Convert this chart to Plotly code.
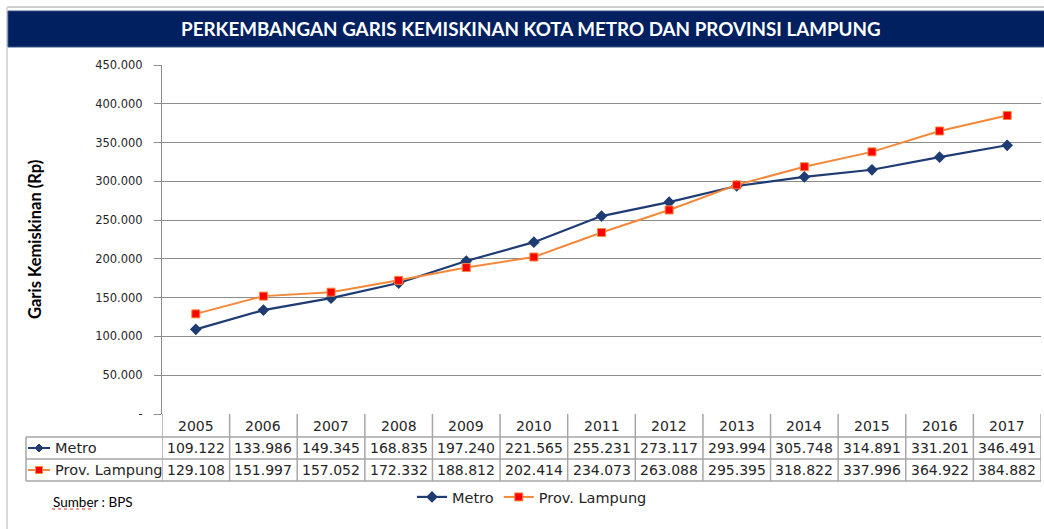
import plotly.graph_objects as go

# ---------------- data ----------------
years = [2005, 2006, 2007, 2008, 2009, 2010, 2011, 2012, 2013, 2014, 2015, 2016, 2017]
metro = [109122, 133986, 149345, 168835, 197240, 221565, 255231, 273117, 293994, 305748, 314891, 331201, 346491]
lampung = [129108, 151997, 157052, 172332, 188812, 202414, 234073, 263088, 295395, 318822, 337996, 364922, 384882]
series_names = ["Metro", "Prov. Lampung"]
y_tickvals = [0, 50000, 100000, 150000, 200000, 250000, 300000, 350000, 400000, 450000]
y_ticktext = ["-", "50.000", "100.000", "150.000", "200.000", "250.000", "300.000", "350.000", "400.000", "450.000"]
title_text = "PERKEMBANGAN GARIS KEMISKINAN KOTA METRO DAN PROVINSI LAMPUNG"
y_title = "Garis Kemiskinan (Rp)"
source_text = "Sumber : BPS"

# ---------------- style ----------------
W, H = 1044, 529
ML, MR, MT, MB = 162, 3, 65, 115
PW, PH = W - ML - MR, H - MT - MB
NAVY = "#1F3B73"
ORANGE = "#F4883A"
RED = "#FF0000"
GRID = "#8C8C8C"
TBL = "#A6A6A6"
TXT = "#262626"
FONT = "DejaVu Sans"


def px(x):
    return (x - ML) / PW


def py(y):
    return (H - MB - y) / PH


def fmt(v):
    return f"{v:,}".replace(",", ".")


cats = [str(y) for y in years]
n = len(years)

fig = go.Figure()
fig.add_trace(go.Scatter(
    x=cats, y=metro, name=series_names[0], mode="lines+markers",
    line=dict(color=NAVY, width=2.2),
    marker=dict(symbol="diamond", size=9, color=NAVY),
))
fig.add_trace(go.Scatter(
    x=cats, y=lampung, name=series_names[1], mode="lines+markers",
    line=dict(color=ORANGE, width=2),
    marker=dict(symbol="square", size=8, color=RED, line=dict(color=ORANGE, width=1)),
))

shapes = []
annotations = []

# frame
shapes.append(dict(type="line", xref="paper", yref="paper", x0=px(7), x1=px(1044), y0=py(7), y1=py(7),
                   line=dict(color="#D0D0D0", width=2)))
shapes.append(dict(type="line", xref="paper", yref="paper", x0=px(7), x1=px(7), y0=py(7), y1=py(529),
                   line=dict(color="#D9D9D9", width=2)))
# title bar
shapes.append(dict(type="rect", xref="paper", yref="paper", x0=px(8), x1=px(1046), y0=py(11), y1=py(47),
                   fillcolor="#002060", line=dict(color="#3A5488", width=1)))
annotations.append(dict(xref="paper", yref="paper", x=px(531), y=py(29), text=f"<b>{title_text}</b>",
                        showarrow=False, font=dict(family="Lato", size=18.8, color="white"),
                        xanchor="center", yanchor="middle"))

# y-axis title
annotations.append(dict(xref="paper", yref="paper", x=px(35), y=py(240), text=f"<b>{y_title}</b>",
                        textangle=-90, showarrow=False, font=dict(family="Lato", size=16.5, color="#000000"),
                        xanchor="center", yanchor="middle"))

# ---------------- data table ----------------
x_left = 26
for i in range(n + 1):
    shapes.append(dict(type="line", xref="x", yref="paper", x0=i - 0.5, x1=i - 0.5,
                       y0=py(414), y1=py(481), line=dict(color=TBL, width=1.5)))
shapes.append(dict(type="line", xref="paper", yref="paper", x0=px(x_left), x1=px(x_left),
                   y0=py(437), y1=py(481), line=dict(color=TBL, width=1.5)))
for yy in [437, 459, 481]:
    shapes.append(dict(type="line", xref="paper", yref="paper", x0=px(x_left), x1=1.0,
                       y0=py(yy), y1=py(yy), line=dict(color=TBL, width=1.5)))

# header years
for i, c in enumerate(cats):
    annotations.append(dict(xref="x", yref="paper", x=i, y=py(426), text=c, showarrow=False,
                            font=dict(family=FONT, size=14, color=TXT), xanchor="center", yanchor="middle"))
# values
for vals, yc in [(metro, 448), (lampung, 470)]:
    for i, v in enumerate(vals):
        annotations.append(dict(xref="x", yref="paper", x=i, y=py(yc), text=fmt(v), showarrow=False,
                                font=dict(family=FONT, size=14, color=TXT), xanchor="center", yanchor="middle"))

# row labels with legend keys
for name, yc, kind in [(series_names[0], 448, "diamond"), (series_names[1], 470, "square")]:
    col = NAVY if kind == "diamond" else ORANGE
    shapes.append(dict(type="line", xref="paper", yref="paper", x0=px(28), x1=px(50), y0=py(yc), y1=py(yc),
                       line=dict(color=col, width=2)))
    if kind == "diamond":
        cx, cy, r = 39, yc, 4
        path = (f"M {px(cx)} {py(cy - r)} L {px(cx + r)} {py(cy)} L {px(cx)} {py(cy + r)} "
                f"L {px(cx - r)} {py(cy)} Z")
        shapes.append(dict(type="path", xref="paper", yref="paper", path=path,
                           fillcolor=NAVY, line=dict(color=NAVY, width=1)))
    else:
        shapes.append(dict(type="rect", xref="paper", yref="paper", x0=px(35.5), x1=px(42.5),
                           y0=py(yc - 3.5), y1=py(yc + 3.5), fillcolor=RED, line=dict(color=ORANGE, width=1)))
    annotations.append(dict(xref="paper", yref="paper", x=px(53), y=py(yc), text=name, showarrow=False,
                            font=dict(family=FONT, size=14.5, color=TXT), xanchor="left", yanchor="middle"))

# source note
annotations.append(dict(xref="paper", yref="paper", x=px(51), y=py(502), text=source_text, showarrow=False,
                        font=dict(family="Lato", size=13.5, color="#000000"), xanchor="left", yanchor="middle"))
shapes.append(dict(type="line", xref="paper", yref="paper", x0=px(52), x1=px(93), y0=py(509), y1=py(509),
                   line=dict(color="#E03030", width=1, dash="dot")))

fig.update_layout(
    width=W, height=H,
    margin=dict(l=ML, r=MR, t=MT, b=MB),
    paper_bgcolor="white", plot_bgcolor="white",
    font=dict(family=FONT, color=TXT),
    showlegend=True,
    legend=dict(orientation="h", x=px(532), y=py(497), xanchor="center", yanchor="middle",
                font=dict(family=FONT, size=14.5, color=TXT), itemwidth=30, tracegroupgap=0,
                bgcolor="rgba(0,0,0,0)"),
    shapes=shapes,
    annotations=annotations,
)
fig.update_xaxes(type="category", range=[-0.5, n - 0.5], showticklabels=False, showgrid=False,
                 zeroline=False, showline=False, ticks="")
fig.update_yaxes(range=[0, 450000], tickvals=y_tickvals, ticktext=y_ticktext,
                 showgrid=True, gridcolor=GRID, gridwidth=1, zeroline=False,
                 showline=True, linecolor=GRID, linewidth=1,
                 ticks="outside", ticklen=7, tickcolor=GRID, ticklabelstandoff=9,
                 tickfont=dict(family=FONT, size=11.5, color=TXT))

fig.write_html("out.html", config={"displayModeBar": False},
               post_script="document.body.style.margin='0px';document.body.style.overflow='hidden';")
